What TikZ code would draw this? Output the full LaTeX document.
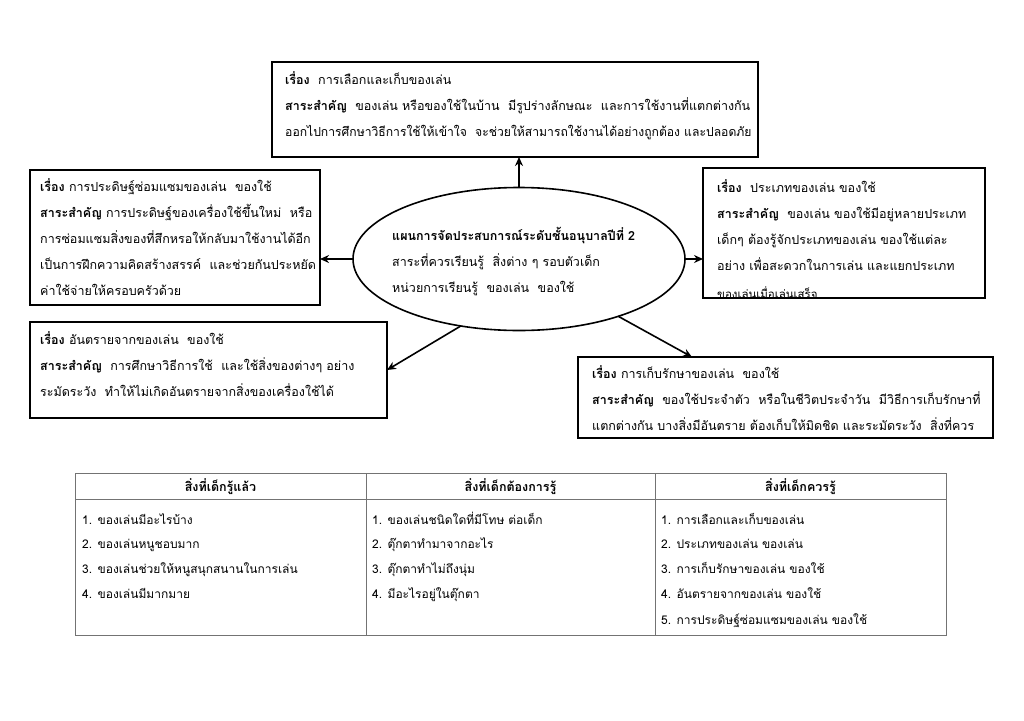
\documentclass[tikz,border=0pt]{standalone}
\usepackage{fontspec}
\setmainfont{Loma}[Script=Thai]
\usetikzlibrary{arrows.meta,shapes.geometric,calc}
\begin{document}
\begin{tikzpicture}[x=1pt,y=-1pt,
  box/.style={draw,line width=1.6pt,rectangle,anchor=north west,inner sep=0,outer sep=0},
  txt/.style={anchor=north west,inner sep=0,align=left,font=\fontsize{12.5}{26}\selectfont},
  arr/.style={line width=1.6pt,-{Stealth[length=9pt,width=8pt]}},
  tline/.style={draw=black!55,line width=0.8pt},
  hdr/.style={anchor=base,inner sep=0,font=\fontsize{12.5}{25}\selectfont\bfseries},
  cell/.style={anchor=base west,inner sep=0,font=\fontsize{12}{25}\selectfont}]
\useasboundingbox (0,0) rectangle (1024,720);
\fill[white] (0,0) rectangle (1024,720);

% boxes
\node[box,minimum width=486,minimum height=95] (top) at (272,62) {};
\node[box,minimum width=290,minimum height=135] (left) at (30,170) {};
\node[box,minimum width=282,minimum height=130] (right) at (703,168) {};
\node[box,minimum width=357,minimum height=96] (bl) at (30,322) {};
\node[box,minimum width=415,minimum height=81] (br) at (578,357) {};
\node[draw,ellipse,line width=1.6pt,minimum width=332,minimum height=143,inner sep=0,outer sep=0] (c) at (519,259) {};

% texts
\node[txt] (toptext) at (285,71) {\textbf{เรื่อง}\ \ การเลือกและเก็บของเล่น\\
\textbf{สาระสำคัญ}\ \ ของเล่น หรือของใช้ในบ้าน\ \ มีรูปร่างลักษณะ\ \ และการใช้งานที่แตกต่างกัน\\
\scalebox{0.972}[1]{ออกไปการศึกษาวิธีการใช้ให้เข้าใจ\ \ จะช่วยให้สามารถใช้งานได้อย่างถูกต้อง และปลอดภัย}};

\node[txt] (lefttext) at (40,178) {\textbf{เรื่อง} การประดิษฐ์ซ่อมแซมของเล่น\ \ ของใช้\\
\textbf{สาระสำคัญ} การประดิษฐ์ของเครื่องใช้ขึ้นใหม่\ \ หรือ\\
การซ่อมแซมสิ่งของที่สึกหรอให้กลับมาใช้งานได้อีก\\
เป็นการฝึกความคิดสร้างสรรค์\ \ และช่วยกันประหยัด\\
ค่าใช้จ่ายให้ครอบครัวด้วย};

\begin{scope}
\clip (right.north west) rectangle (right.south east);
\node[txt] (righttext) at (717,179) {\textbf{เรื่อง}\ \ ประเภทของเล่น ของใช้\\
\textbf{สาระสำคัญ}\ \ ของเล่น ของใช้มีอยู่หลายประเภท\\
เด็กๆ ต้องรู้จักประเภทของเล่น ของใช้แต่ละ\\
อย่าง เพื่อสะดวกในการเล่น และแยกประเภท\\[2pt]
{\fontsize{11.5}{26}\selectfont ของเล่นเมื่อเล่นเสร็จ}};
\end{scope}
\draw[line width=1.6pt] (right.north west) rectangle (right.south east);

\node[txt] (bltext) at (40,331) {\textbf{เรื่อง} อันตรายจากของเล่น\ \ ของใช้\\
\textbf{สาระสำคัญ}\ \ การศึกษาวิธีการใช้\ \ และใช้สิ่งของต่างๆ อย่าง\\
ระมัดระวัง\ \ ทำให้ไม่เกิดอันตรายจากสิ่งของเครื่องใช้ได้};

\node[txt] (brtext) at (592,365) {\textbf{เรื่อง}\ การเก็บรักษาของเล่น\ \ ของใช้\\
\textbf{สาระสำคัญ}\ \ ของใช้ประจำตัว\ \ หรือในชีวิตประจำวัน\ \ มีวิธีการเก็บรักษาที่\\
แตกต่างกัน บางสิ่งมีอันตราย ต้องเก็บให้มิดชิด และระมัดระวัง\ \ สิ่งที่ควร};

\node[txt] (ctext) at (392,227) {\textbf{แผนการจัดประสบการณ์ระดับชั้นอนุบาลปีที่ 2}\\
สาระที่ควรเรียนรู้\ \ สิ่งต่าง ๆ รอบตัวเด็ก\\
หน่วยการเรียนรู้\ \ ของเล่น\ \ ของใช้};

% connectors
\draw[arr] (c.north) -- (c.north |- top.south);
\draw[arr] (c.west) -- (c.west -| left.east);
\draw[arr] (c.east) -- (c.east -| right.west);
\draw[arr] (c.229) -- (bl.east);
\draw[arr] (c.-30) -- ($(br.north west)+(114,0)$);

% table
\draw[tline] (75,473) rectangle (946,635);
\draw[tline] (75,499) -- (946,499);
\draw[tline] (366,473) -- (366,635);
\draw[tline] (655,473) -- (655,635);
\node[hdr] (h1) at (220.5,491) {สิ่งที่เด็กรู้แล้ว};
\node[hdr] (h2) at (510.5,491) {สิ่งที่เด็กต้องการรู้};
\node[hdr] (h3) at (800.5,491) {สิ่งที่เด็กควรรู้};

\node[cell] (a1) at (82,524) {1. ของเล่นมีอะไรบ้าง};
\node[cell] (a2) at (82,548) {2. ของเล่นหนูชอบมาก};
\node[cell] (a3) at (82,573) {3. ของเล่นช่วยให้หนูสนุกสนานในการเล่น};
\node[cell] (a4) at (82,598) {4. ของเล่นมีมากมาย};

\node[cell] (b1) at (372,524) {1. ของเล่นชนิดใดที่มีโทษ ต่อเด็ก};
\node[cell] (b2) at (372,548) {2. ตุ๊กตาทำมาจากอะไร};
\node[cell] (b3) at (372,573) {3. ตุ๊กตาทำไม่ถึงนุ่ม};
\node[cell] (b4) at (372,598) {4. มีอะไรอยู่ในตุ๊กตา};

\node[cell] (c1) at (661,524) {1. การเลือกและเก็บของเล่น};
\node[cell] (c2) at (661,548) {2. ประเภทของเล่น ของเล่น};
\node[cell] (c3) at (661,573) {3. การเก็บรักษาของเล่น ของใช้};
\node[cell] (c4) at (661,598) {4. อันตรายจากของเล่น ของใช้};
\node[cell] (c5) at (661,624) {5. การประดิษฐ์ซ่อมแซมของเล่น ของใช้};
\end{tikzpicture}
\end{document}
